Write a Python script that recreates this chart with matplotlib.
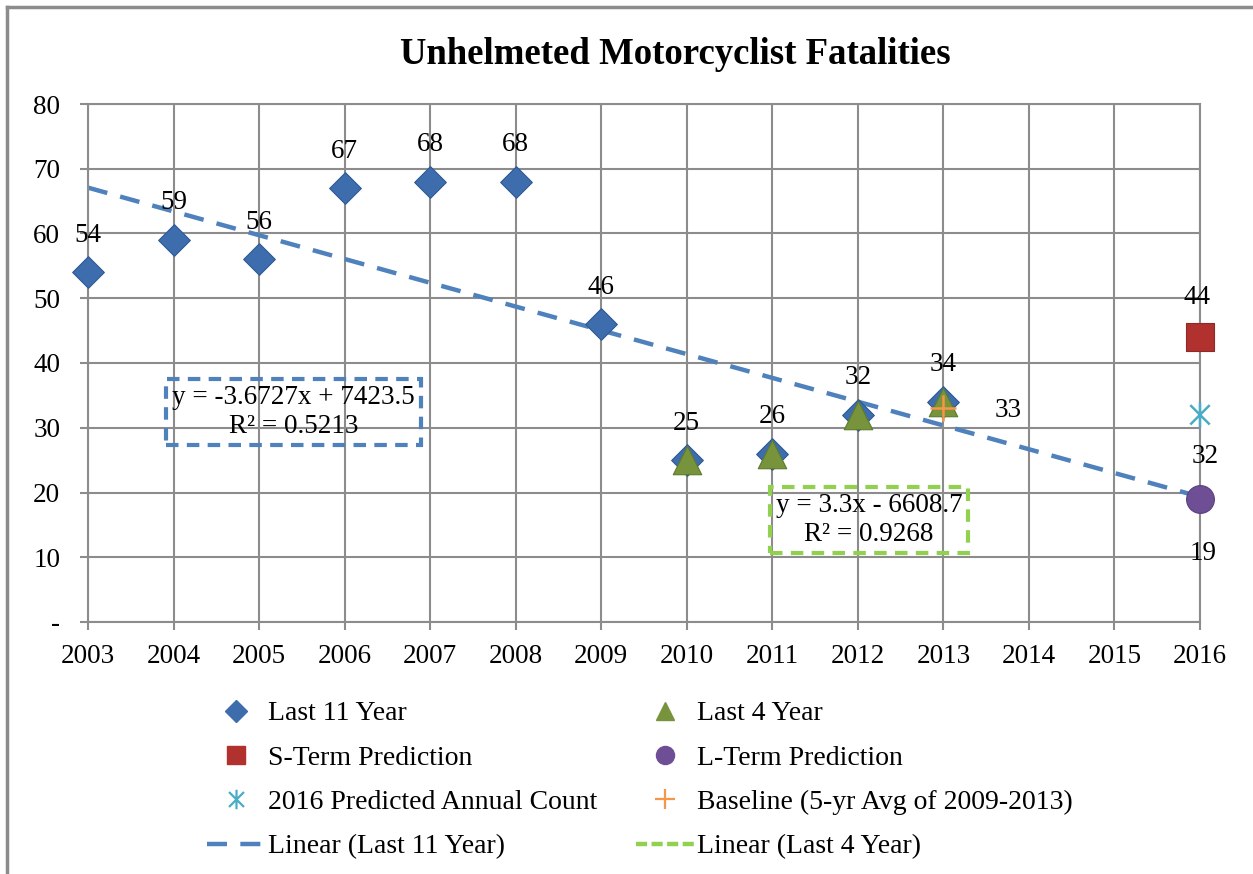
import matplotlib
matplotlib.use("Agg")
from matplotlib import pyplot as plt
from matplotlib.lines import Line2D
from matplotlib.path import Path
import numpy as np

# data
years_11 = [2003, 2004, 2005, 2006, 2007, 2008, 2009, 2010, 2011, 2012, 2013]
last_11 = [54, 59, 56, 67, 68, 68, 46, 25, 26, 32, 34]
years_4 = [2010, 2011, 2012, 2013]
last_4 = [25, 26, 32, 34]
pred_year = 2016
s_term = 44
l_term = 19
pred_count = 32
base_year = 2013
baseline = 33
trend11 = (-3.6727, 7423.5, 0.5213)
trend4 = (3.3, -6608.7, 0.9268)
xticks = list(range(2003, 2017))
yticks = [0, 10, 20, 30, 40, 50, 60, 70, 80]
ytick_labels = ["-", "10", "20", "30", "40", "50", "60", "70", "80"]

plt.rcParams["font.family"] = ["Liberation Serif", "DejaVu Serif"]

blue = "#3E6DAE"
green = "#77933C"
red = "#B0312E"
purple = "#6E4F96"
teal = "#4BACC6"
orange = "#F79646"
trend_blue = "#4F81BD"
trend_green = "#92D050"
grid_c = "#8C8C8C"

# asterisk marker: X with a vertical bar
star = Path([(-1, -1), (1, 1), (-1, 1), (1, -1), (0, -1.3), (0, 1.3)],
            [Path.MOVETO, Path.LINETO, Path.MOVETO, Path.LINETO, Path.MOVETO, Path.LINETO])

fig = plt.figure(figsize=(12.53, 8.74), dpi=100)
ax = fig.add_axes([88 / 1253, 1 - 622 / 874, (1200 - 88) / 1253, (622 - 104) / 874])

# trend line of the 11 year series, over the whole axis
tx = np.array([xticks[0], xticks[-1]])
ax.plot(tx, trend11[0] * tx + trend11[1], color=trend_blue, lw=3.2,
        dashes=(4.5, 3), zorder=2)

kw = dict(clip_on=False, linewidth=0.8)
ax.scatter(years_11, last_11, marker="D", s=260, color=blue, edgecolor="#2E5A94",
           zorder=3, **kw)
ax.scatter(years_4, last_4, marker="^", s=420, color=green, edgecolor="#5E7A2C",
           zorder=4, **kw)
ax.scatter([pred_year], [s_term], marker="s", s=380, color=red, edgecolor="#8E2A28",
           zorder=4, **kw)
ax.scatter([pred_year], [l_term], marker="o", s=400, color=purple, edgecolor="#5A3F7E",
           zorder=4, **kw)
ax.scatter([pred_year], [pred_count], marker=star, s=330, facecolor="none",
           edgecolor=teal, linewidths=1.8, zorder=4, clip_on=False)
ax.scatter([base_year], [baseline], marker="+", s=330, color=orange, linewidths=1.8,
           zorder=5)

# value labels
fs = 19.5
for x, y in zip(years_11, last_11):
    ax.annotate(str(y), (x, y), xytext=(0, 37), textcoords="offset pixels",
                ha="center", va="center", fontsize=fs)
ax.annotate(str(s_term), (pred_year, s_term), xytext=(-3, 40), textcoords="offset pixels",
            ha="center", va="center", fontsize=fs)
ax.annotate(str(pred_count), (pred_year, pred_count), xytext=(5, -42),
            textcoords="offset pixels", ha="center", va="center", fontsize=fs)
ax.annotate(str(l_term), (pred_year, l_term), xytext=(3, -55), textcoords="offset pixels",
            ha="center", va="center", fontsize=fs)
ax.annotate(str(baseline), (base_year, baseline), xytext=(65, -2),
            textcoords="offset pixels", ha="center", va="center", fontsize=fs)

# trend equations
ax.text(2005.4, 32.4, "y = -3.6727x + 7423.5\nR² = 0.5213", ha="center", va="center",
        fontsize=fs, linespacing=1.2,
        bbox=dict(boxstyle="square,pad=0.22", facecolor="none", edgecolor=trend_blue,
                  linewidth=3, linestyle=(0, (3, 2))))
ax.text(2012.13, 15.7, "y = 3.3x - 6608.7\nR² = 0.9268", ha="center", va="center",
        fontsize=fs, linespacing=1.2,
        bbox=dict(boxstyle="square,pad=0.22", facecolor="none", edgecolor=trend_green,
                  linewidth=3, linestyle=(0, (3, 2))))

ax.set_xlim(xticks[0], xticks[-1])
ax.set_ylim(0, 80)
ax.set_xticks(xticks)
ax.set_xticklabels([str(y) for y in xticks])
ax.set_yticks(yticks)
ax.set_yticklabels(ytick_labels)
ax.tick_params(labelsize=fs, length=6, width=1.5, color=grid_c)
ax.tick_params(axis="y", pad=14)
ax.tick_params(axis="x", pad=10)
ax.grid(True, color=grid_c, linewidth=1.5)
ax.set_axisbelow(True)
for sp in ax.spines.values():
    sp.set_color(grid_c)
    sp.set_linewidth(1.5)

fig.text(675 / 1253, 1 - 54 / 874, "Unhelmeted Motorcyclist Fatalities", ha="center",
         va="center", fontsize=26.5, fontweight="bold")

# legend (column major order)
h = [
    Line2D([], [], ls="", marker="D", ms=11, color=blue),
    Line2D([], [], ls="", marker="s", ms=13, color=red),
    Line2D([], [], ls="", marker=star, ms=14, mfc="none", mec=teal, mew=1.6),
    Line2D([], [], color=trend_blue, lw=3.2, dashes=(4.5, 3)),
    Line2D([], [], ls="", marker="^", ms=13, color=green),
    Line2D([], [], ls="", marker="o", ms=13, color=purple),
    Line2D([], [], ls="", marker="+", ms=14, color=orange, mew=1.6),
    Line2D([], [], color=trend_green, lw=3.2, dashes=(2.5, 1)),
]
labels = ["Last 11 Year", "S-Term Prediction", "2016 Predicted Annual Count",
          "Linear (Last 11 Year)", "Last 4 Year", "L-Term Prediction",
          "Baseline (5-yr Avg of 2009-2013)", "Linear (Last 4 Year)"]
fig.legend(h, labels, ncol=2, loc="upper left", bbox_to_anchor=(182 / 1253, 1 - 676 / 874),
           frameon=False, fontsize=20, handlelength=2.1, handletextpad=0.1,
           columnspacing=1.4, labelspacing=0.68)

# outer chart border (top and left only are visible)
fig.add_artist(Line2D([7 / 1253, 1], [1 - 7 / 874, 1 - 7 / 874], color=grid_c, lw=2.5,
                      transform=fig.transFigure))
fig.add_artist(Line2D([7 / 1253, 7 / 1253], [0, 1 - 7 / 874], color=grid_c, lw=2.5,
                      transform=fig.transFigure))

plt.savefig("out.png", dpi=100)
